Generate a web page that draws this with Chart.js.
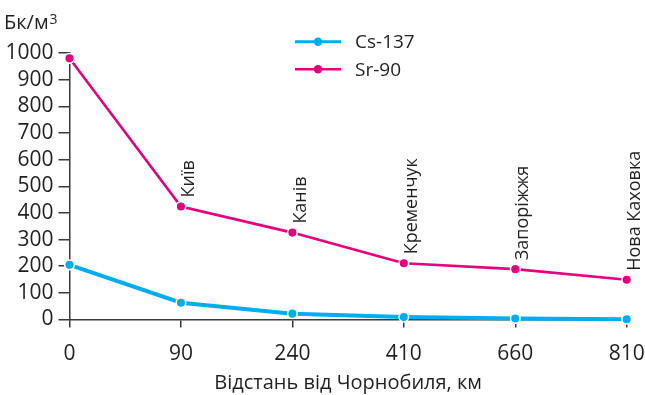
<!DOCTYPE html>
<html>
<head>
<meta charset="utf-8">
<script src="https://cdn.jsdelivr.net/npm/chart.js@4"></script>
<style>
  html, body { margin: 0; padding: 0; background: #fff; }
  #c { display: block; }
</style>
</head>
<body>
<canvas id="c" width="645" height="395"></canvas>
<script>
// ---- data ----
const distances = ['0', '90', '240', '410', '660', '810'];
const cities = ['', 'Київ', 'Канів', 'Кременчук', 'Запоріжжя', 'Нова Каховка'];
const cs137 = [205, 63, 22, 9, 4, 1];
const sr90 = [980, 424, 326, 211, 189, 149];
const yTicks = [0, 100, 200, 300, 400, 500, 600, 700, 800, 900, 1000];
const unitLabel = 'Бк/м';
const unitSup = '3';
const xTitle = 'Відстань від Чорнобиля, км';

const FONT = '"Open Sans", "Noto Sans", sans-serif';
const TEXT = '#231f20';
const AXIS = '#3a3a3a';
const CYAN = '#00aeef';
const MAGENTA = '#e6007e';

const cityLabelsPlugin = {
  id: 'cityLabels',
  afterDatasetsDraw(chart) {
    const meta = chart.getDatasetMeta(1);
    const ctx = chart.ctx;
    ctx.save();
    ctx.font = '18px ' + FONT;
    ctx.fillStyle = TEXT;
    ctx.textAlign = 'left';
    ctx.textBaseline = 'middle';
    meta.data.forEach((pt, i) => {
      if (!cities[i]) return;
      ctx.save();
      ctx.translate(pt.x + 8, pt.y - 9);
      ctx.rotate(-Math.PI / 2);
      ctx.fillText(cities[i], 0, 0);
      ctx.restore();
    });
    ctx.restore();
  }
};

const legendPlugin = {
  id: 'customLegend',
  afterDraw(chart) {
    const ctx = chart.ctx;
    const rows = [41.7, 69.3];
    chart.data.datasets.forEach((ds, i) => {
      const y = rows[i];
      ctx.save();
      ctx.strokeStyle = ds.borderColor;
      ctx.lineWidth = i === 0 ? 3 : 2.6;
      ctx.beginPath();
      ctx.moveTo(295, y);
      ctx.lineTo(341, y);
      ctx.stroke();
      ctx.fillStyle = ds.borderColor;
      ctx.beginPath();
      ctx.arc(318, y, 4.2, 0, Math.PI * 2);
      ctx.fill();
      ctx.font = '19px ' + FONT;
      ctx.fillStyle = TEXT;
      ctx.textAlign = 'left';
      ctx.textBaseline = 'middle';
      ctx.fillText(ds.label, 355, y + 1);
      ctx.restore();
    });
  }
};

const unitPlugin = {
  id: 'unitLabel',
  afterDraw(chart) {
    const ctx = chart.ctx;
    ctx.save();
    ctx.fillStyle = TEXT;
    ctx.textAlign = 'left';
    ctx.textBaseline = 'alphabetic';
    ctx.font = '20px ' + FONT;
    ctx.fillText(unitLabel, 4, 29);
    const w = ctx.measureText(unitLabel).width;
    ctx.font = '14px ' + FONT;
    ctx.fillText(unitSup, 4 + w + 1, 24);
    ctx.restore();
  }
};

new Chart(document.getElementById('c'), {
  type: 'line',
  data: {
    labels: distances,
    datasets: [
      {
        label: 'Cs-137',
        data: cs137,
        borderColor: CYAN,
        backgroundColor: CYAN,
        borderWidth: 4,
        pointRadius: 4.8,
        pointBackgroundColor: CYAN,
        pointBorderColor: '#ffffff',
        pointBorderWidth: 1.5,
        tension: 0,
        clip: false
      },
      {
        label: 'Sr-90',
        data: sr90,
        borderColor: MAGENTA,
        backgroundColor: MAGENTA,
        borderWidth: 2.6,
        pointRadius: 4.8,
        pointBackgroundColor: MAGENTA,
        pointBorderColor: '#ffffff',
        pointBorderWidth: 1.5,
        tension: 0,
        clip: false
      }
    ]
  },
  options: {
    responsive: false,
    animation: false,
    devicePixelRatio: 1,
    layout: { padding: { top: 53, right: 18.3, left: 0, bottom: 0 } },
    plugins: { legend: { display: false }, tooltip: { enabled: false } },
    scales: {
      x: {
        type: 'category',
        offset: false,
        afterFit(s) { s.height = 75.5; s.paddingLeft = 0; s.paddingRight = 0; },
        grid: { display: true, drawOnChartArea: false, drawTicks: true, tickLength: 8, color: AXIS, lineWidth: 1.5 },
        border: { display: true, color: AXIS, width: 1.5 },
        ticks: { font: { family: FONT, size: 21 }, color: TEXT, padding: 14, maxRotation: 0, autoSkip: false },
        title: { display: true, text: xTitle, font: { family: FONT, size: 20 }, color: TEXT, padding: { top: 0, bottom: 0 } }
      },
      y: {
        min: 0,
        max: 1000,
        afterFit(s) { s.width = 69.5; s.paddingTop = 0; s.paddingBottom = 0; },
        afterBuildTicks(s) { s.ticks = yTicks.map(v => ({ value: v })); },
        grid: { display: true, drawOnChartArea: false, drawTicks: true, tickLength: 11, color: AXIS, lineWidth: 1.5 },
        border: { display: true, color: AXIS, width: 1.5 },
        ticks: { font: { family: FONT, size: 21 }, color: TEXT, padding: 5, autoSkip: false, callback: (v) => String(v) }
      }
    }
  },
  plugins: [cityLabelsPlugin, legendPlugin, unitPlugin]
});
</script>
</body>
</html>
